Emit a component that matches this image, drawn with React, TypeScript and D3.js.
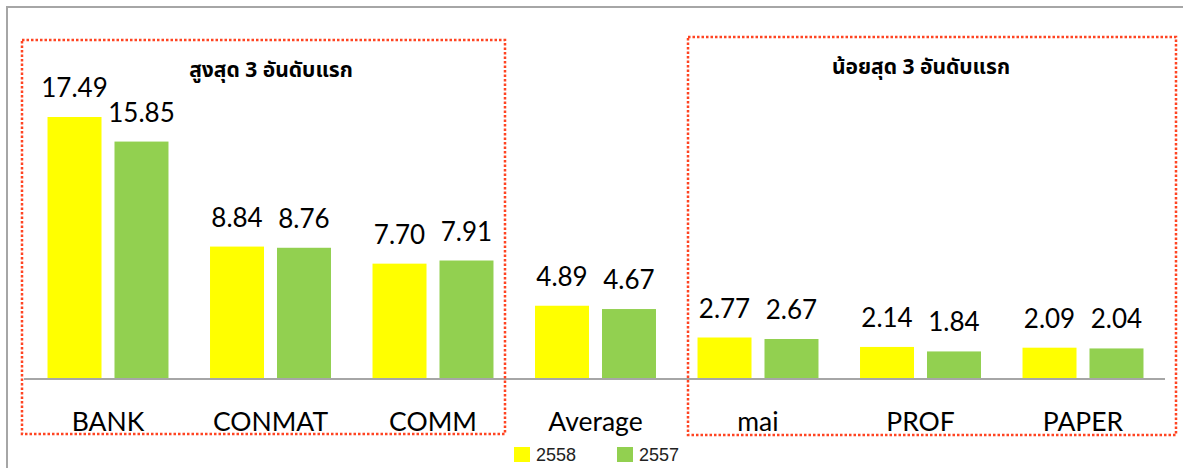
import * as d3 from "d3";

const categories = ["BANK", "CONMAT", "COMM", "Average", "mai", "PROF", "PAPER"];
const seriesNames = ["2558", "2557"];
const values2558 = [17.49, 8.84, 7.7, 4.89, 2.77, 2.14, 2.09];
const values2557 = [15.85, 8.76, 7.91, 4.67, 2.67, 1.84, 2.04];
const colors = ["#ffff00", "#92d050"];

const width = 1183;
const height = 468;
const baseY = 379;

const App = () => {
  const data = categories.map((c, i) => ({
    cat: c,
    vals: [values2558[i], values2557[i]],
  }));

  const xScale = d3.scaleBand().domain(categories).range([26.75, 1164.25]);
  const xSub = d3
    .scaleBand()
    .domain(seriesNames)
    .range([0, xScale.bandwidth()])
    .paddingInner(0.194)
    .paddingOuter(0.31);

  // 17.49 sits ~262px above the baseline
  const yScale = d3.scaleLinear().domain([0, 20]).range([baseY, baseY - 20 * 14.98]);

  const labelFont = "Lato, 'Open Sans', sans-serif";
  const thaiFont = "Tahoma, 'Noto Sans Thai', 'Noto Sans', sans-serif";

  return (
    <svg
      width={width}
      height={height}
      style={{ position: "absolute", left: 0, top: 0, background: "#fff" }}
    >
      {/* outer frame */}
      <rect x={7} y={7} width={1300} height={600} fill="none" stroke="#a6a6a6" strokeWidth={2} />

      <g className="bars">
        {data.map((d) =>
          d.vals.map((v, j) => (
            <rect
              key={d.cat + j}
              x={xScale(d.cat) + xSub(seriesNames[j])}
              y={yScale(v)}
              width={xSub.bandwidth()}
              height={baseY - yScale(v)}
              fill={colors[j]}
            />
          ))
        )}
      </g>

      <g className="labels">
        {data.map((d) =>
          d.vals.map((v, j) => (
            <text
              key={d.cat + "l" + j}
              x={xScale(d.cat) + xSub(seriesNames[j]) + xSub.bandwidth() / 2}
              y={yScale(v) - 20}
              textAnchor="middle"
              fontSize={26}
              fontFamily={labelFont}
              fill="#000"
            >
              {v.toFixed(2)}
            </text>
          ))
        )}
      </g>

      <line x1={24} x2={1165} y1={baseY} y2={baseY} stroke="#a6a6a6" strokeWidth={2} />

      <g className="x-labels">
        {categories.map((c) => (
          <text
            key={c}
            x={xScale(c) + xScale.bandwidth() / 2}
            y={431}
            textAnchor="middle"
            fontSize={26.5}
            fontFamily={labelFont}
            fill="#000"
          >
            {c}
          </text>
        ))}
      </g>

      {/* highlight boxes */}
      <rect x={22} y={40} width={483} height={394} fill="none" stroke="#ff4422" strokeWidth={2.5} strokeDasharray="2.5 2" />
      <rect x={688} y={37} width={488} height={398} fill="none" stroke="#ff4422" strokeWidth={2.5} strokeDasharray="2.5 2" />

      <text x={271} y={77} textAnchor="middle" fontSize={21} fontWeight="bold" fontFamily={thaiFont}>
        สูงสุด 3 อันดับแรก
      </text>
      <text x={921} y={74} textAnchor="middle" fontSize={21} fontWeight="bold" fontFamily={thaiFont}>
        น้อยสุด 3 อันดับแรก
      </text>

      {/* legend */}
      {seriesNames.map((s, i) => (
        <g key={s} transform={`translate(${514 + i * 103},447)`}>
          <rect width={16} height={15} fill={colors[i]} />
          <text x={22} y={14} fontSize={18} fontFamily="'Liberation Sans Narrow', 'Liberation Sans', sans-serif" fill="#222">
            {s}
          </text>
        </g>
      ))}
    </svg>
  );
};

export default App;
